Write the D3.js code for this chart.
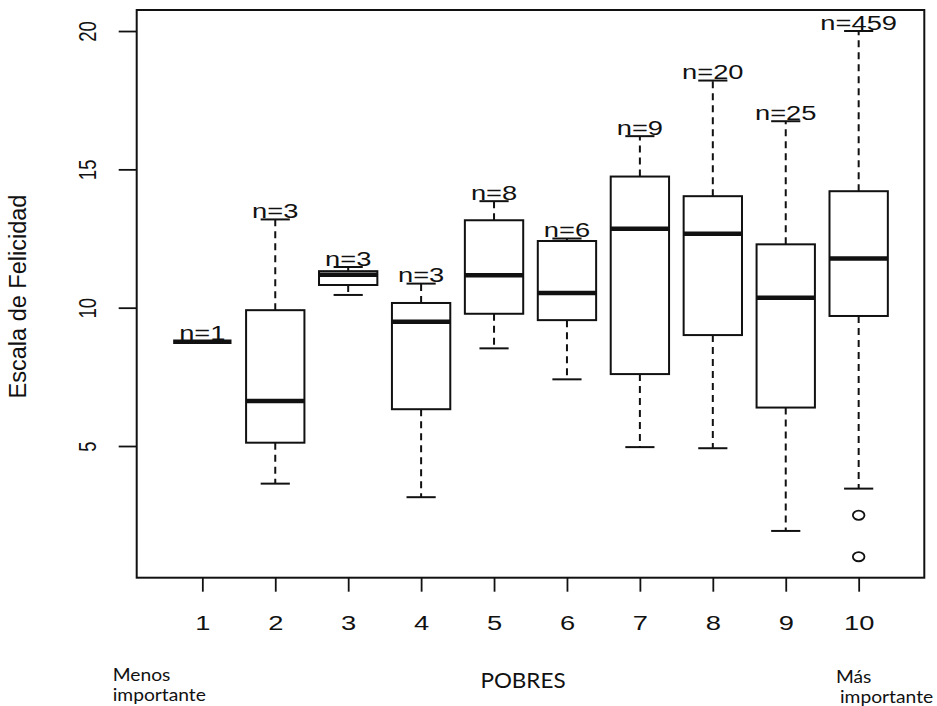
<!DOCTYPE html>
<html>
<head>
<meta charset="utf-8">
<script src="https://cdn.jsdelivr.net/npm/d3@7"></script>
<style>
  html, body { margin: 0; padding: 0; background: #fff; }
  svg { display: block; }
</style>
</head>
<body>
<svg id="chart" width="937" height="706"></svg>
<script>
// ---- data ----
const categories   = [1, 2, 3, 4, 5, 6, 7, 8, 9, 10];
const nLabels      = ["n=1", "n=3", "n=3", "n=3", "n=8", "n=6", "n=9", "n=20", "n=25", "n=459"];
const whiskerLow   = [8.77, 3.64, 10.46, 3.15, 8.53, 7.41, 4.96, 4.92, 1.93, 3.46];
const q1Values     = [8.77, 5.12, 10.82, 6.33, 9.78, 9.55, 7.60, 9.01, 6.39, 9.70];
const medianValues = [8.77, 6.63, 11.19, 9.49, 11.17, 10.53, 12.85, 12.67, 10.36, 11.78];
const q3Values     = [8.77, 9.91, 11.32, 10.17, 13.16, 12.41, 14.74, 14.03, 12.29, 14.21];
const whiskerHigh  = [8.77, 13.19, 11.47, 10.87, 13.85, 12.50, 16.20, 18.21, 16.74, 20.0];
const outlierCat   = [10, 10];
const outlierVal   = [2.5, 1.0];
const yTickValues  = [5, 10, 15, 20];
const yAxisTitle   = "Escala de Felicidad";
const xAxisTitle   = "POBRES";
const leftNote     = ["Menos", "importante"];
const rightNote    = ["Más", "importante"];

const boxes = categories.map((c, i) => ({
  cat: c, label: nLabels[i], lo: whiskerLow[i], q1: q1Values[i],
  med: medianValues[i], q3: q3Values[i], hi: whiskerHigh[i]
}));
const outliers = outlierCat.map((c, i) => ({ cat: c, v: outlierVal[i] }));

// ---- layout ----
const plot = { left: 136.7, right: 924.3, top: 10, bottom: 577.7 };
const x = d3.scaleLinear().domain([0.1, 10.9]).range([plot.left, plot.right]);
const y = d3.scaleLinear().domain([0.24, 20.76]).range([plot.bottom, plot.top]);
const unit = x(2) - x(1);
const boxW = 0.8 * unit;
const capW = 0.4 * unit;
const ink = "#111";
const mainFont = "'Liberation Sans', Arial, sans-serif";
const sx = 1.3; // horizontal stretch of the reference's text

const svg = d3.select("#chart");

// plot frame
svg.append("rect")
  .attr("x", plot.left).attr("y", plot.top)
  .attr("width", plot.right - plot.left).attr("height", plot.bottom - plot.top)
  .attr("fill", "none").attr("stroke", ink).attr("stroke-width", 2);

// y axis
const yAxis = svg.append("g")
  .attr("transform", `translate(${plot.left},0)`)
  .call(d3.axisLeft(y).tickValues(yTickValues).tickSize(18).tickSizeOuter(0));
yAxis.select(".domain").remove();
yAxis.selectAll(".tick line").attr("stroke", ink).attr("stroke-width", 1.8);
yAxis.selectAll(".tick text")
  .attr("x", null).attr("dy", null)
  .attr("transform", `translate(${95.5 - plot.left},0) scale(${sx},1) rotate(-90)`)
  .attr("text-anchor", "middle")
  .attr("font-family", mainFont).attr("font-size", 18.5).attr("fill", ink);

// x axis
const xAxis = svg.append("g")
  .attr("transform", `translate(0,${plot.bottom})`)
  .call(d3.axisBottom(x).tickValues(categories).tickSize(14).tickSizeOuter(0).tickFormat(d3.format("d")));
xAxis.select(".domain").remove();
xAxis.selectAll(".tick line").attr("stroke", ink).attr("stroke-width", 1.8);
xAxis.selectAll(".tick text")
  .attr("y", null).attr("dy", null)
  .attr("transform", `translate(0,52.5) scale(${sx},1)`)
  .attr("text-anchor", "middle")
  .attr("font-family", mainFont).attr("font-size", 21).attr("fill", ink);

// boxes
const g = svg.append("g");
const bx = g.selectAll("g.box").data(boxes).join("g").attr("class", "box");

// whiskers (dashed)
bx.filter(d => d.hi > d.q3).append("line")
  .attr("x1", d => x(d.cat)).attr("x2", d => x(d.cat))
  .attr("y1", d => y(d.q3)).attr("y2", d => y(d.hi))
  .attr("stroke", ink).attr("stroke-width", 2).attr("stroke-dasharray", "7,5");
bx.filter(d => d.lo < d.q1).append("line")
  .attr("x1", d => x(d.cat)).attr("x2", d => x(d.cat))
  .attr("y1", d => y(d.q1)).attr("y2", d => y(d.lo))
  .attr("stroke", ink).attr("stroke-width", 2).attr("stroke-dasharray", "7,5");
// caps
bx.filter(d => d.hi > d.q3).append("line")
  .attr("x1", d => x(d.cat) - capW / 2).attr("x2", d => x(d.cat) + capW / 2)
  .attr("y1", d => y(d.hi)).attr("y2", d => y(d.hi))
  .attr("stroke", ink).attr("stroke-width", 2);
bx.filter(d => d.lo < d.q1).append("line")
  .attr("x1", d => x(d.cat) - capW / 2).attr("x2", d => x(d.cat) + capW / 2)
  .attr("y1", d => y(d.lo)).attr("y2", d => y(d.lo))
  .attr("stroke", ink).attr("stroke-width", 2);
// box rect
bx.filter(d => d.q3 > d.q1).append("rect")
  .attr("x", d => x(d.cat) - boxW / 2).attr("width", boxW)
  .attr("y", d => y(d.q3)).attr("height", d => y(d.q1) - y(d.q3))
  .attr("fill", "#fff").attr("stroke", ink).attr("stroke-width", 2);
// median
bx.append("line")
  .attr("x1", d => x(d.cat) - boxW / 2).attr("x2", d => x(d.cat) + boxW / 2)
  .attr("y1", d => y(d.med)).attr("y2", d => y(d.med))
  .attr("stroke", ink).attr("stroke-width", 4.5);
// n labels
bx.append("text")
  .attr("transform", d => `translate(${x(d.cat)},${y(d.hi) - 1.5}) scale(${sx},1)`)
  .attr("text-anchor", "middle")
  .attr("font-family", mainFont).attr("font-size", 21).attr("fill", ink)
  .text(d => d.label);

// outliers
g.selectAll("ellipse.out").data(outliers).join("ellipse").attr("class", "out")
  .attr("cx", d => x(d.cat)).attr("cy", d => y(d.v))
  .attr("rx", 5.8).attr("ry", 4.6)
  .attr("fill", "none").attr("stroke", ink).attr("stroke-width", 1.8);

// y axis title
svg.append("text")
  .attr("transform", `translate(26,296.5) rotate(-90)`)
  .attr("text-anchor", "middle")
  .attr("font-family", mainFont).attr("font-size", 23.5).attr("fill", ink)
  .text(yAxisTitle);

// bottom annotations
const noteFont = "Lato, 'Open Sans', sans-serif";
const nsx = 1.1;
svg.append("text")
  .attr("transform", `translate(523,687.7) scale(${nsx},1)`)
  .attr("text-anchor", "middle")
  .attr("font-family", noteFont).attr("font-size", 20.4).attr("fill", "#111")
  .text(xAxisTitle);
function note(lines, x0, ys, x1) {
  lines.forEach((t, i) => {
    svg.append("text")
      .attr("transform", `translate(${i === 0 ? x0 : x1},${ys[i]}) scale(${nsx},1)`)
      .attr("font-family", noteFont).attr("font-size", 17.5).attr("fill", "#111")
      .text(t);
  });
}
note(leftNote, 112.7, [680.7, 700.7], 112.7);
note(rightNote, 836, [683, 703], 840);
</script>
</body>
</html>
